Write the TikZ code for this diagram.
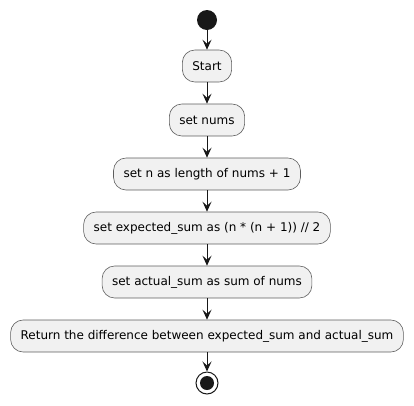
\documentclass[tikz,border=0pt]{standalone}
\usepackage{fontspec}
\setmainfont{DejaVu Sans}
\usetikzlibrary{arrows.meta}
\definecolor{boxfill}{HTML}{F1F1F1}
\definecolor{ink}{HTML}{181818}
\begin{document}
\begin{tikzpicture}[x=1pt,y=-1pt,
  actbox/.style={draw=ink!70, line width=0.6pt, fill=boxfill, rounded corners=12.5pt,
    minimum height=32pt, inner xsep=10pt, font=\fontsize{12}{14}\selectfont, text=black},
  flow/.style={draw=ink, line width=1pt, -{Stealth[length=10pt,width=9pt,inset=4pt]}}]
\useasboundingbox (0,0) rectangle (414,405);
\node[circle, fill=ink, minimum size=20pt, inner sep=0pt] (init) at (207,20) {};
\node[actbox] (start) at (207,66) {Start};
\node[actbox] (nums) at (207,120) {set nums};
\node[actbox] (setn) at (207,174) {set n as length of nums + 1};
\node[actbox] (exp) at (207,228) {set expected\_sum as (n * (n + 1)) // 2};
\node[actbox] (act) at (207,282) {set actual\_sum as sum of nums};
\node[actbox] (ret) at (207,336) {Return the difference between expected\_sum and actual\_sum};
\node[circle, draw=ink, line width=1pt, fill=white, minimum size=22pt, inner sep=0pt] (fin) at (207,383) {};
\node[circle, fill=ink, minimum size=14pt, inner sep=0pt] (finin) at (fin) {};
\draw[flow] (init) -- (start);
\draw[flow] (start) -- (nums);
\draw[flow] (nums) -- (setn);
\draw[flow] (setn) -- (exp);
\draw[flow] (exp) -- (act);
\draw[flow] (act) -- (ret);
\draw[flow] (ret) -- (fin);
\end{tikzpicture}
\end{document}
